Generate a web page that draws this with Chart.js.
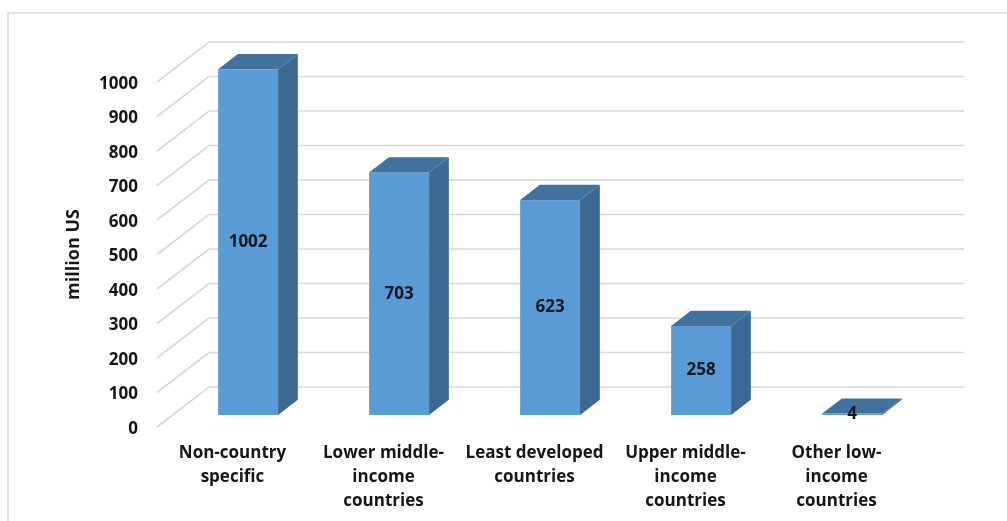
<!DOCTYPE html>
<html>
<head>
<meta charset="utf-8">
<script src="https://cdn.jsdelivr.net/npm/chart.js@4.4.1/dist/chart.umd.min.js"></script>
<style>
  html, body { margin: 0; padding: 0; background: #ffffff; }
  #wrap { width: 1007px; height: 521px; position: relative; }
</style>
</head>
<body>
<div id="wrap"><canvas id="chart" width="1007" height="521"></canvas></div>
<script>
// Funding by recipient group (million US)
const categories = [
  ['Non-country', 'specific'],
  ['Lower middle-', 'income', 'countries'],
  ['Least developed', 'countries'],
  ['Upper middle-', 'income', 'countries'],
  ['Other low-', 'income', 'countries']
];
const values = [1002, 703, 623, 258, 4];
const yTicks = [0, 100, 200, 300, 400, 500, 600, 700, 800, 900, 1000];

// 3D look: depth of the plot box and where the columns sit inside it
const DEPTH_X = 52, DEPTH_Y = -40;
const COL_FRONT = 0.3, COL_BACK = 0.68;

const FONT = '"Open Sans", Lato, "DejaVu Sans", sans-serif';
const TEXT = '#161616';
const GRID = '#d9d9d9';
const FACE = '#5b9bd5', SIDE = '#3c6992', TOP = '#41719c';

const box3d = {
  id: 'box3d',
  beforeDraw(chart) {
    const ctx = chart.ctx;
    ctx.save();
    ctx.strokeStyle = '#d9d9d9';
    ctx.lineWidth = 1.5;
    ctx.beginPath();
    ctx.moveTo(8, 521);
    ctx.lineTo(8, 13);
    ctx.lineTo(1007, 13);
    ctx.stroke();
    ctx.restore();
  },
  beforeDatasetsDraw(chart) {
    const { ctx, chartArea } = chart;
    const y = chart.scales.y;
    ctx.save();
    ctx.strokeStyle = GRID;
    ctx.lineWidth = 1.6;
    yTicks.forEach(v => {
      const py = y.getPixelForValue(v);
      ctx.beginPath();
      ctx.moveTo(chartArea.left, py);
      ctx.lineTo(chartArea.left + DEPTH_X, py + DEPTH_Y);
      ctx.lineTo(chartArea.right + DEPTH_X, py + DEPTH_Y);
      ctx.stroke();
    });
    ctx.restore();
  },
  afterDatasetsDraw(chart) {
    const ctx = chart.ctx;
    const meta = chart.getDatasetMeta(0);
    const fx = DEPTH_X * COL_FRONT, fy = DEPTH_Y * COL_FRONT;
    const bx = DEPTH_X * (COL_BACK - COL_FRONT), by = DEPTH_Y * (COL_BACK - COL_FRONT);
    ctx.save();
    meta.data.forEach((el, i) => {
      const p = el.getProps(['x', 'y', 'base', 'width'], true);
      const l = p.x - p.width / 2 + fx, r = p.x + p.width / 2 + fx;
      const t = p.y + fy, b = p.base + fy;
      // front face
      ctx.fillStyle = FACE;
      ctx.fillRect(l, t, r - l, b - t);
      // right side
      ctx.fillStyle = SIDE;
      ctx.beginPath();
      ctx.moveTo(r, t); ctx.lineTo(r + bx, t + by);
      ctx.lineTo(r + bx, b + by); ctx.lineTo(r, b);
      ctx.closePath(); ctx.fill();
      // top
      ctx.fillStyle = TOP;
      ctx.beginPath();
      ctx.moveTo(l, t); ctx.lineTo(l + bx, t + by);
      ctx.lineTo(r + bx, t + by); ctx.lineTo(r, t);
      ctx.closePath(); ctx.fill();
      // value label centred on the front face
      ctx.fillStyle = '#101828';
      ctx.font = 'bold 17px ' + FONT;
      ctx.textAlign = 'center';
      ctx.textBaseline = 'middle';
      ctx.fillText(String(values[i]), (l + r) / 2, (t + b) / 2);
    });
    ctx.restore();
  }
};

new Chart(document.getElementById('chart'), {
  type: 'bar',
  data: {
    labels: categories,
    datasets: [{
      data: values,
      backgroundColor: 'rgba(0,0,0,0)',
      borderWidth: 0,
      categoryPercentage: 1,
      barPercentage: 0.397
    }]
  },
  options: {
    responsive: false,
    animation: false,
    events: [],
    layout: { padding: { left: 60, top: 82, right: 95, bottom: 0 } },
    plugins: { legend: { display: false }, tooltip: { enabled: false } },
    scales: {
      x: {
        grid: { display: false },
        border: { display: false },
        ticks: {
          color: TEXT,
          font: { family: FONT, size: 17, weight: 'bold', lineHeight: 1.41 },
          padding: 6,
          maxRotation: 0,
          autoSkip: false
        },
        afterFit(scale) { scale.height = 94; }
      },
      y: {
        min: 0,
        max: 1000,
        afterBuildTicks(scale) { scale.ticks = yTicks.map(v => ({ value: v })); },
        grid: { display: false },
        border: { display: false },
        ticks: {
          color: TEXT,
          font: { family: FONT, size: 17, weight: 'bold' },
          padding: 11,
          labelOffset: 2,
          callback: v => String(v)
        },
        title: {
          display: true,
          text: 'million US',
          color: TEXT,
          font: { family: FONT, size: 18, weight: 'bold' },
          padding: { top: 3, bottom: 0 }
        },
        afterFit(scale) { scale.width = 97; }
      }
    }
  },
  plugins: [box3d]
});
</script>
</body>
</html>
